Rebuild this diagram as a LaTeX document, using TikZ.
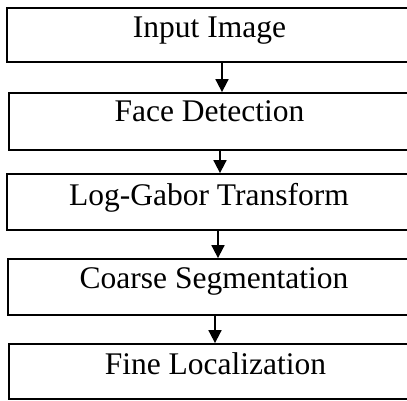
\documentclass[tikz,border=0pt]{standalone}
\usepackage{fontspec}
\setmainfont{Liberation Serif}
\usetikzlibrary{arrows.meta}
\begin{document}
\begin{tikzpicture}[x=1pt,y=-1pt,
  stage/.style={draw, line width=1.8pt, inner sep=0pt, rectangle},
  caption/.style={font=\fontsize{31.5}{36}\selectfont, anchor=base, inner sep=0pt},
  flow/.style={line width=1.8pt, -{Triangle[length=13pt,width=13pt]}}]
\useasboundingbox (0,0) rectangle (407,401);

% process boxes (they run on past the right edge of the page)
\node[stage, minimum width=418pt, minimum height=54pt] (b1) at (216,35) {};
\node[stage, minimum width=416pt, minimum height=57pt] (b2) at (217,121.5) {};
\node[stage, minimum width=418pt, minimum height=56pt] (b3) at (216,202) {};
\node[stage, minimum width=417pt, minimum height=56pt] (b4) at (216.5,287) {};
\node[stage, minimum width=416pt, minimum height=55pt] (b5) at (217,371.5) {};

% box captions
\node[caption] (t1) at (209.5,38) {Input Image};
\node[caption] (t2) at (209.5,122) {Face Detection};
\node[caption] (t3) at (209,205) {Log-Gabor Transform};
\node[caption] (t4) at (214,288) {Coarse Segmentation};
\node[caption] (t5) at (215.5,374) {Fine Localization};

% connectors
\draw[flow] ([xshift=6pt]b1.south) coordinate (s1) -- (s1 |- b2.north);
\draw[flow] ([xshift=3pt]b2.south) coordinate (s2) -- (s2 |- b3.north);
\draw[flow] ([xshift=2pt]b3.south) coordinate (s3) -- (s3 |- b4.north);
\draw[flow] ([xshift=-1.5pt]b4.south) coordinate (s4) -- (s4 |- b5.north);
\end{tikzpicture}
\end{document}
